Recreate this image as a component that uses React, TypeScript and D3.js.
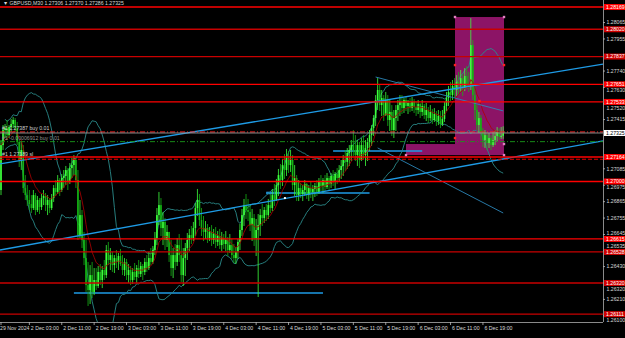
import React from 'react';
import * as d3 from 'd3';

// ---------- DATA (prices in points, 1e-5) ----------
const firstOpenPts = 126943;
const highPts = [
  127278,127378,127385,127412,127378,127419,127432,127425,127399,127278,
  127265,127244,127043,126976,126943,126909,126943,126923,126903,126889,
  126916,126943,126923,126909,126889,126916,126976,127010,127043,127023,
  127050,127077,127104,127090,127124,127157,127177,127157,127077,126876,
  126809,126662,126608,126461,126440,126461,126420,126420,126434,126447,
  126434,126474,126574,126595,126554,126528,126507,126541,126521,126548,
  126507,126487,126481,126447,126434,126420,126454,126440,126474,126461,
  126447,126487,126507,126528,126554,126568,126662,126822,126930,126889,
  126796,126755,126708,126662,126608,126554,126581,126621,126648,126621,
  126554,126588,126655,126682,126702,126729,126856,126950,126916,126822,
  126769,126735,126715,126695,126708,126682,126695,126668,126682,126662,
  126648,126668,126628,126648,126615,126581,126561,126615,126715,126816,
  126883,126916,126883,126849,126816,126782,126749,126782,126816,126849,
  126829,126849,126883,126916,126950,126983,127017,127084,127117,127151,
  127184,127218,127204,127211,127177,127110,127043,127010,126990,126976,
  127010,126990,126976,126997,126976,126990,127010,127023,127043,127023,
  127043,127057,127037,127057,127077,127064,127090,127110,127144,127177,
  127211,127224,127244,127278,127345,127311,127278,127265,127291,127311,
  127278,127291,127345,127378,127445,127579,127693,127646,127613,127579,
  127600,127579,127546,127512,127479,127512,127546,127579,127579,127559,
  127566,127546,127559,127566,127553,127533,127546,127526,127546,127519,
  127526,127499,127512,127486,127492,127472,127479,127472,127479,127533,
  127600,127640,127667,127680,127693,127713,127734,127747,127720,127760,
  127774,127734,128095,127948,127646,127512,127466,127445,127358,127345,
  127332,127325,127311,127332,127345,127365,127358,127365,127370,
];
const lowPts = [
  126909,127211,127291,127278,127291,127332,127358,127332,127244,127097,
  127077,126923,126876,126836,126809,126789,126809,126775,126796,126782,
  126809,126842,126802,126775,126789,126809,126863,126903,126916,126903,
  126930,126956,126976,126943,126983,127023,127043,126956,126608,126621,
  126554,126440,126260,126166,126179,126219,126239,126273,126286,126306,
  126286,126340,126353,126440,126407,126394,126387,126420,126407,126434,
  126373,126367,126340,126320,126306,126313,126340,126320,126353,126360,
  126340,126373,126394,126407,126440,126447,126507,126574,126708,126635,
  126574,126541,126561,126461,126367,126353,126407,126434,126461,126327,
  126300,126367,126474,126534,126581,126601,126635,126769,126702,126635,
  126601,126615,126588,126601,126568,126581,126554,126568,126548,126534,
  126548,126534,126501,126521,126481,126454,126447,126481,126541,126635,
  126702,126749,126735,126668,126601,126568,126501,126226,126635,126702,
  126722,126735,126749,126789,126802,126836,126869,126903,126950,126970,
  127017,127037,127057,127064,126943,126903,126869,126869,126889,126869,
  126903,126883,126869,126889,126869,126896,126903,126916,126936,126923,
  126936,126950,126936,126956,126970,126950,126983,127003,127017,127037,
  127070,127084,127104,127137,127171,127137,127104,127090,127137,127151,
  127104,127137,127204,127238,127305,127372,127479,127472,127439,127405,
  127439,127372,127338,127305,127291,127338,127405,127439,127452,127459,
  127472,127452,127466,127472,127459,127439,127452,127425,127439,127419,
  127405,127392,127405,127385,127399,127372,127378,127358,127372,127399,
  127472,127506,127539,127546,127559,127573,127579,127600,127573,127606,
  127620,127600,127613,127546,127412,127345,127325,127278,127231,127224,
  127211,127224,127211,127231,127244,127265,127278,127285,127286,
];
const closePts = [
  127244,127345,127358,127311,127365,127385,127412,127358,127265,127144,
  127211,126956,126909,126876,126849,126822,126909,126809,126876,126829,
  126889,126903,126842,126876,126822,126889,126956,126930,127010,126943,
  127023,127037,127077,126997,127090,127110,127144,127010,126641,126775,
  126608,126487,126306,126273,126373,126260,126340,126300,126394,126340,
  126407,126373,126541,126474,126507,126440,126487,126461,126501,126447,
  126407,126461,126373,126407,126340,126394,126360,126420,126380,126434,
  126394,126461,126420,126487,126461,126541,126621,126775,126842,126688,
  126729,126608,126662,126507,126420,126507,126461,126574,126507,126373,
  126487,126554,126608,126641,126621,126688,126822,126876,126742,126688,
  126662,126688,126621,126662,126608,126648,126595,126635,126574,126621,
  126581,126608,126541,126574,126507,126487,126528,126595,126675,126775,
  126842,126809,126796,126708,126755,126621,126675,126708,126775,126755,
  126809,126775,126842,126822,126909,126876,126976,127043,127010,127110,
  127077,127157,127110,127144,126976,127023,126909,126956,126916,126943,
  126983,126909,126956,126930,126950,126970,126930,126997,126970,127010,
  126963,127023,126983,127037,126997,127050,127023,127077,127104,127144,
  127131,127191,127211,127244,127211,127177,127244,127144,127244,127177,
  127224,127265,127311,127358,127425,127546,127613,127512,127559,127445,
  127546,127412,127466,127345,127425,127479,127512,127533,127492,127546,
  127506,127526,127492,127533,127499,127479,127519,127466,127506,127445,
  127479,127425,127466,127412,127452,127405,127439,127385,127419,127506,
  127559,127600,127579,127640,127613,127667,127646,127693,127626,127707,
  127653,127640,127914,127579,127479,127378,127425,127332,127278,127311,
  127258,127291,127244,127278,127305,127332,127298,127306,127325,
];

const dateLabels = [
  '29 Nov 2024', '2 Dec 03:00', '2 Dec 11:00', '2 Dec 19:00', '3 Dec 03:00', '3 Dec 11:00',
  '3 Dec 19:00', '4 Dec 03:00', '4 Dec 11:00', '4 Dec 19:00', '5 Dec 03:00', '5 Dec 11:00',
  '5 Dec 19:00', '6 Dec 03:00', '6 Dec 11:00', '6 Dec 19:00',
];
const dateLabelBars = [0, 14, 30, 46, 62, 78, 94, 110, 126, 142, 158, 174, 190, 206, 222, 238];

const priceTicks = [1.28065, 1.27955, 1.2774, 1.2763, 1.2752, 1.27415, 1.27085, 1.26975, 1.26865, 1.26755, 1.26645, 1.26535, 1.2643, 1.2632, 1.2621, 1.261];
const redLevels = [1.28169, 1.2802, 1.27837, 1.27651, 1.27533, 1.27164, 1.27, 1.26615, 1.26528, 1.2632, 1.26111];
const redLevelDark = [false, true, true, false, false, false, false, false, true, true, true];

// trend lines: [barA, priceA, barB, priceB]
const trendLines = [
  [0, 1.27119, 248, 1.27676],
  [0, 1.26542, 248, 1.27151],
];
const shortLines = [
  [36, 1.26253, 159, 1.26253],
  [131, 1.26923, 182, 1.26923],
  [164, 1.27204, 208, 1.27204],
];
const thickSegment = [131, 1.26923, 136, 1.26923];
const thinLines = [
  [185, 1.2770, 248, 1.27473],
  [186, 1.27225, 248, 1.26789],
];
// rectangles [barFrom, barTo, priceTop, priceBottom]
const rects = [
  [224.2, 248.4, 1.28102, 1.27177],
  [200, 248.4, 1.27251, 1.27177],
];
const redHandles = [[224.2, 1.2778], [248.4, 1.2778], [236.3, 1.27539], [224.2, 1.27291]];
const whiteDots = [[140.2, 1.26889]];
const orderLines = { open: 1.27332, tp: 1.27267, sl: 1.27149 };
const header = 'GBPUSD,M30  1.27306 1.27370 1.27286 1.27325';
const orderTexts = ['#1 1.27387 buy 0.01', '#1 -0.00006912 buy 0.01', '#1 1.27189 sl'];

const BB_PERIOD = 20;
const BB_DEV = 2;
const MA_PERIOD = 10;

export default function App() {
  const W = 625, H = 338;
  const PR = 603, PB = 322;
  const hi = highPts.map(v => v / 1e5);
  const lo = lowPts.map(v => v / 1e5);
  const cl = closePts.map(v => v / 1e5);
  const op = cl.map((c, i) => (i === 0 ? firstOpenPts / 1e5 : cl[i - 1]));

  const x = d3.scaleLinear().domain([0, 248]).range([1, 503.2]);
  const y = d3.scaleLinear().domain([1.260586, 1.28216]).range([PB, 0]);

  const up: number[] = [], dn: number[] = [];
  cl.forEach((_, i) => {
    const w = cl.slice(Math.max(0, i - BB_PERIOD + 1), i + 1);
    const m = d3.mean(w) as number;
    const sd = Math.sqrt(d3.mean(w.map(v => (v - m) ** 2)) as number);
    up.push(m + BB_DEV * sd); dn.push(m - BB_DEV * sd);
  });
  const alpha = 2 / (MA_PERIOD + 1);
  const ema: number[] = [];
  cl.forEach((c, i) => ema.push(i === 0 ? c : ema[i - 1] + alpha * (c - ema[i - 1])));

  const line = d3.line<number>().x((_, i) => x(i)).y(d => y(d));
  const lineFrom = (arr: number[], start: number) =>
    d3.line<number>().x((_, i) => x(i + start)).y(d => y(d))(arr.slice(start)) || '';

  const font = 'Liberation Sans, Arial, sans-serif';
  const fs = 5.2;

  const extend = (l: number[]) => {
    const [a, pa, b, pb] = l;
    const slope = (pb - pa) / (b - a);
    const i0 = x.invert(0), i1 = x.invert(PR);
    return { x1: 0, y1: y(pa + slope * (i0 - a)), x2: PR, y2: y(pa + slope * (i1 - a)) };
  };

  const lastClose = cl[cl.length - 1];
  const redYs = redLevels.map(p => y(p)).concat([y(lastClose)]);
  const tickTextY = (p: number) => {
    let ty = y(p);
    for (const ry of redYs) {
      if (Math.abs(ty - ry) < 6.2) ty = ty >= ry ? ry + 6.2 : ry - 6.2;
    }
    return ty;
  };

  return (
    <svg width={W} height={H} style={{ position: 'absolute', left: 0, top: 0, background: '#000' }} fontFamily={font}>
      <rect width={W} height={H} fill="#000" />
      <defs>
        <clipPath id="plot"><rect x={0} y={0} width={PR} height={PB} /></clipPath>
      </defs>
      <g clipPath="url(#plot)">
        {rects.map((r, k) => (
          <rect key={k} x={x(r[0])} y={y(r[2])} width={x(r[1]) - x(r[0])} height={y(r[3]) - y(r[2])} fill="#8c1466" />
        ))}
        {shortLines.map((l, k) => (
          <line key={k} x1={x(l[0])} x2={x(l[2])} y1={y(l[1])} y2={y(l[3])} stroke="#1e9be6" strokeWidth={1.4} />
        ))}
        <line x1={x(thickSegment[0])} x2={x(thickSegment[2])} y1={y(thickSegment[1])} y2={y(thickSegment[3])} stroke="#1e8ad0" strokeWidth={2.6} />
        <path d={lineFrom(up, 2)} fill="none" stroke="#2a8a8a" strokeWidth={0.9} />
        <path d={lineFrom(dn, 2)} fill="none" stroke="#2a8a8a" strokeWidth={0.9} />
        {cl.map((c, i) => {
          const o = op[i];
          const bull = c >= o;
          const col = bull ? '#3cff3c' : '#14b414';
          const cx = x(i);
          const yt = y(Math.max(o, c)), yb = y(Math.min(o, c));
          return (
            <g key={i}>
              <line x1={cx} x2={cx} y1={y(hi[i])} y2={y(lo[i])} stroke={col} strokeWidth={0.8} />
              <rect x={cx - 0.8} y={yt} width={1.6} height={Math.max(0.7, yb - yt)} fill={col} />
            </g>
          );
        })}
        <path d={line(ema) || ''} fill="none" stroke="#b00000" strokeWidth={0.8} />
        {trendLines.map((l, k) => {
          const e = extend(l);
          return <line key={k} {...e} stroke="#1e9be6" strokeWidth={1.3} />;
        })}
        {thinLines.map((l, k) => (
          <line key={k} x1={x(l[0])} y1={y(l[1])} x2={x(l[2])} y2={y(l[3])} stroke="#2b86b8" strokeWidth={0.9} />
        ))}
        {redLevels.map((p, k) => (
          <line key={k} x1={0} x2={PR} y1={y(p)} y2={y(p)} stroke={redLevelDark[k] ? '#c80000' : '#ff0000'} strokeWidth={1.3} />
        ))}
        <line x1={0} x2={PR} y1={y(orderLines.open)} y2={y(orderLines.open)} stroke="#ff2020" strokeWidth={1} strokeDasharray="5,2,1,2" />
        <line x1={0} x2={PR} y1={y(lastClose)} y2={y(lastClose)} stroke="#9a9a9a" strokeWidth={0.9} />
        <line x1={0} x2={PR} y1={y(orderLines.tp)} y2={y(orderLines.tp)} stroke="#1a9a1a" strokeWidth={0.9} strokeDasharray="5,2,1,2" />
        <line x1={0} x2={PR} y1={y(orderLines.sl)} y2={y(orderLines.sl)} stroke="#e00000" strokeWidth={1} strokeDasharray="4,2" />
        {[[rects[0][0], rects[0][2]], [rects[0][1], rects[0][2]], [rects[1][0], rects[1][3]], [rects[1][1], rects[1][3]], [rects[0][1], rects[1][2]]].map((h, k) => (
          <rect key={k} x={x(h[0]) - 1.2} y={y(h[1]) - 1.2} width={2.4} height={2.4} fill="#e080c0" />
        ))}
        {redHandles.map((h, k) => (
          <rect key={k} x={x(h[0]) - 1.2} y={y(h[1]) - 1.2} width={2.4} height={2.4} fill="#ff2020" />
        ))}
        {whiteDots.map((h, k) => (
          <rect key={k} x={x(h[0]) - 1} y={y(h[1]) - 1} width={2} height={2} fill="#ffffff" />
        ))}
        <text x={2} y={y(orderLines.open) - 2} fontSize={fs} fill="#d0d0d0">{orderTexts[0]}</text>
        <text x={2} y={y(orderLines.tp) - 1.5} fontSize={fs} fill="#909090">{orderTexts[1]}</text>
        <text x={2} y={y(orderLines.sl) - 3} fontSize={fs} fill="#d0d0d0">{orderTexts[2]}</text>
        <text x={3} y={5} fontSize={fs} fill="#d8d8d8">{'\u25BC ' + header}</text>
      </g>
      <line x1={PR + 0.5} x2={PR + 0.5} y1={0} y2={PB} stroke="#8a8a8a" strokeWidth={1} />
      <line x1={0} x2={PR} y1={PB + 0.5} y2={PB + 0.5} stroke="#8a8a8a" strokeWidth={1} />
      {priceTicks.map((p, k) => (
        <g key={k}>
          <line x1={PR} x2={PR + 2} y1={y(p)} y2={y(p)} stroke="#bbb" strokeWidth={0.8} />
          <text x={PR + 3.5} y={tickTextY(p) + 1.8} fontSize={fs} fill="#d8d8d8">{p.toFixed(5)}</text>
        </g>
      ))}
      {redLevels.map((p, k) => (
        <g key={k}>
          <rect x={PR + 1} y={y(p) - 3} width={21} height={6} fill={redLevelDark[k] ? '#d00000' : '#ff0000'} />
          <text x={PR + 3} y={y(p) + 1.9} fontSize={fs} fill="#fff">{p.toFixed(5)}</text>
        </g>
      ))}
      <g>
        <rect x={PR + 1} y={y(lastClose) - 3} width={21} height={6} fill="#fff" />
        <text x={PR + 3} y={y(lastClose) + 1.9} fontSize={fs} fill="#000">{lastClose.toFixed(5)}</text>
      </g>
      {dateLabels.map((t, k) => (
        <g key={k}>
          <line x1={x(dateLabelBars[k])} x2={x(dateLabelBars[k])} y1={PB} y2={PB + 3} stroke="#bbb" strokeWidth={0.8} />
          <text x={k === 0 ? 0 : x(dateLabelBars[k]) + 1.5} y={PB + 8} fontSize={fs} fill="#d8d8d8">{t}</text>
        </g>
      ))}
    </svg>
  );
}
